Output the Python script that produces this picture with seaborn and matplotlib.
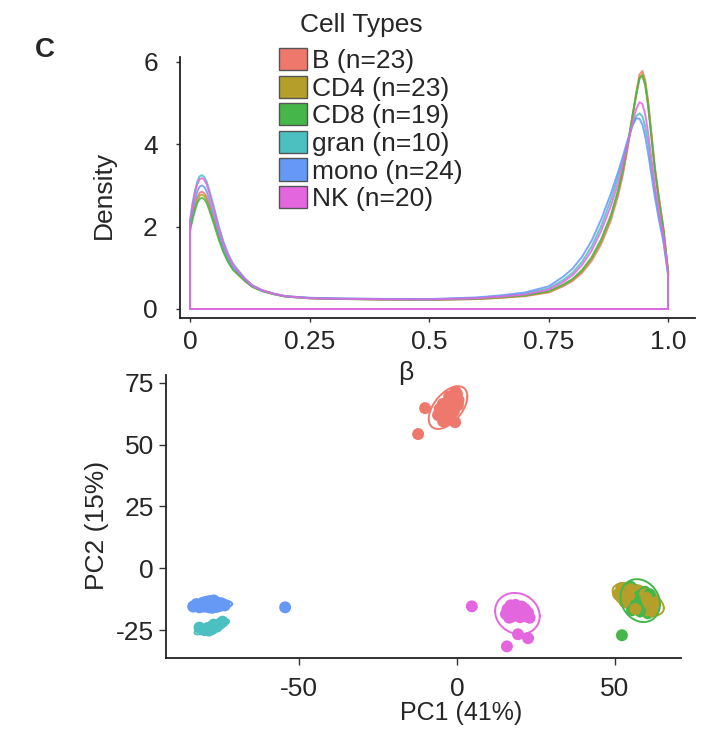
import numpy as np
import pandas as pd
import matplotlib
matplotlib.use("Agg")
import matplotlib.pyplot as plt
from matplotlib.patches import Patch
import seaborn as sns

# ---------------- data ----------------
cell_types = ["B", "CD4", "CD8", "gran", "mono", "NK"]
cell_counts = [23, 23, 19, 10, 24, 20]
colors = ["#EF786C", "#B59F2A", "#45B649", "#4CBFC0", "#6699F5", "#E466DF"]

# density curves of beta values
dens_x = [0.0, 0.005, 0.01, 0.015, 0.02, 0.025, 0.03, 0.035, 0.04, 0.05, 0.06, 0.07, 0.08,
          0.09, 0.10, 0.115, 0.13, 0.15, 0.175, 0.2,
          0.25, 0.3, 0.4, 0.5, 0.6, 0.65, 0.7, 0.75,
          0.78, 0.8, 0.82, 0.84, 0.86, 0.88, 0.895, 0.905, 0.915, 0.925, 0.933, 0.94,
          0.946, 0.952, 0.958, 0.965, 0.972, 0.98, 0.99, 1.0]
dens_B = [2.0, 2.28, 2.51, 2.71, 2.82, 2.85, 2.81, 2.71, 2.54, 2.17, 1.77, 1.43, 1.17,
          0.97, 0.85, 0.68, 0.54, 0.44, 0.36, 0.30,
          0.26, 0.245, 0.23, 0.22, 0.24, 0.27, 0.31, 0.40,
          0.55, 0.68, 0.88, 1.17, 1.58, 2.15, 2.75, 3.25, 3.90, 4.65, 5.25, 5.70,
          5.78, 5.55, 5.05, 4.25, 3.45, 2.75, 1.95, 0.90]
dens_CD4 = [1.95, 2.22, 2.45, 2.64, 2.75, 2.78, 2.74, 2.64, 2.48, 2.12, 1.73, 1.40, 1.15,
            0.96, 0.84, 0.68, 0.54, 0.44, 0.36, 0.30,
            0.26, 0.245, 0.23, 0.22, 0.24, 0.275, 0.32, 0.42,
            0.57, 0.71, 0.92, 1.22, 1.64, 2.22, 2.82, 3.32, 3.95, 4.65, 5.20, 5.62,
            5.70, 5.48, 4.98, 4.20, 3.42, 2.72, 1.95, 0.88]
dens_CD8 = [1.9, 2.16, 2.38, 2.57, 2.67, 2.70, 2.66, 2.57, 2.41, 2.06, 1.69, 1.37, 1.13,
            0.95, 0.84, 0.68, 0.54, 0.44, 0.36, 0.30,
            0.26, 0.245, 0.23, 0.225, 0.25, 0.285, 0.33, 0.43,
            0.59, 0.73, 0.95, 1.26, 1.70, 2.28, 2.88, 3.38, 4.00, 4.68, 5.20, 5.60,
            5.66, 5.42, 4.92, 4.15, 3.38, 2.68, 1.92, 0.85]
dens_gran = [2.15, 2.55, 2.86, 3.09, 3.22, 3.25, 3.20, 3.09, 2.89, 2.47, 2.02, 1.63, 1.33,
             1.10, 0.95, 0.74, 0.58, 0.46, 0.37, 0.31,
             0.27, 0.255, 0.24, 0.23, 0.27, 0.31, 0.37, 0.50,
             0.70, 0.88, 1.15, 1.52, 2.02, 2.65, 3.20, 3.60, 4.05, 4.45, 4.68, 4.75,
             4.68, 4.42, 4.02, 3.45, 2.85, 2.30, 1.70, 0.82]
dens_mono = [2.05, 2.38, 2.64, 2.85, 2.97, 3.00, 2.96, 2.85, 2.67, 2.28, 1.86, 1.50, 1.23,
             1.02, 0.90, 0.71, 0.56, 0.45, 0.37, 0.31,
             0.27, 0.255, 0.245, 0.24, 0.28, 0.33, 0.40, 0.55,
             0.78, 0.98, 1.27, 1.66, 2.18, 2.80, 3.32, 3.70, 4.10, 4.45, 4.63, 4.62,
             4.48, 4.18, 3.78, 3.25, 2.72, 2.20, 1.62, 0.80]
dens_NK = [2.1, 2.52, 2.80, 3.02, 3.15, 3.18, 3.13, 3.02, 2.83, 2.42, 1.97, 1.59, 1.30,
           1.07, 0.93, 0.73, 0.57, 0.46, 0.37, 0.31,
           0.26, 0.25, 0.235, 0.23, 0.26, 0.30, 0.35, 0.47,
           0.65, 0.82, 1.07, 1.42, 1.90, 2.50, 3.05, 3.50, 4.00, 4.50, 4.86, 5.02,
           4.98, 4.72, 4.28, 3.65, 3.00, 2.40, 1.78, 0.85]

# PCA scores (PC1, PC2) per sample
pc_B_x = [-10.1, -12.3, -4.4, -0.6, -2.5, -6.0, -5.0, -4.0, -3.5, -3.0, -2.0, -1.5,
          -1.0, 0.0, 0.5, -0.5, -2.5, -4.5, -1.0, -3.0, 0.3, -5.5, -2.0]
pc_B_y = [64.8, 54.3, 59.5, 59.1, 60.5, 62.0, 63.5, 65.0, 63.0, 66.5, 67.5, 65.5,
          69.0, 70.5, 68.0, 71.5, 69.5, 66.5, 63.5, 62.0, 66.0, 64.5, 64.0]
pc_CD4_x = [51.0, 52.0, 53.5, 54.0, 55.0, 55.5, 56.0, 57.0, 57.5, 58.0, 58.5, 59.0,
            59.5, 60.0, 60.5, 61.0, 61.5, 62.0, 62.5, 53.0, 56.5, 54.5, 60.0]
pc_CD4_y = [-10.5, -8.0, -9.5, -12.0, -8.5, -14.5, -11.0, -13.0, -9.0, -16.0, -12.0, -14.5,
            -10.5, -17.0, -13.5, -15.5, -11.5, -17.5, -14.0, -13.5, -16.5, -11.0, -12.0]
pc_CD8_x = [53.8, 55.0, 56.5, 57.0, 58.9, 61.7, 60.4, 55.4, 58.0, 59.5, 60.5, 57.5,
            56.0, 59.0, 62.0, 58.0, 61.0, 54.5, 52.2]
pc_CD8_y = [-8.9, -7.5, -9.0, -14.2, -15.8, -14.2, -18.2, -17.0, -11.0, -9.5, -12.0, -12.5,
            -12.0, -13.5, -16.5, -17.5, -10.5, -12.5, -27.1]
pc_gran_x = [-81.5, -80.0, -79.0, -78.5, -78.0, -77.5, -77.0, -76.0, -75.0, -74.2]
pc_gran_y = [-24.0, -25.0, -24.2, -25.2, -23.8, -24.6, -22.8, -23.6, -22.5, -21.6]
pc_mono_x = [-83.5, -82.5, -81.5, -80.5, -80.0, -79.5, -79.0, -78.5, -78.5, -78.0, -78.0, -77.5,
             -77.5, -77.0, -77.0, -76.5, -76.0, -75.5, -75.0, -74.5, -73.5, -79.5, -78.0, -54.4]
pc_mono_y = [-15.5, -14.5, -15.8, -14.0, -15.5, -15.0, -13.5, -14.0, -15.8, -13.2, -15.2, -14.2,
             -16.0, -13.0, -14.8, -13.5, -15.6, -14.0, -15.2, -14.2, -15.0, -13.6, -14.6, -15.8]
pc_NK_x = [15.5, 16.0, 17.0, 17.5, 18.0, 18.5, 19.0, 19.5, 20.0, 20.5, 21.0, 21.5,
           22.0, 22.5, 23.0, 16.5, 4.7, 19.3, 22.5, 15.8]
pc_NK_y = [-18.5, -16.5, -15.0, -19.5, -17.0, -14.8, -18.5, -16.0, -19.8, -15.5, -17.5, -16.5,
           -19.5, -18.0, -20.0, -20.0, -15.4, -26.7, -28.3, -31.6]

x_ticks_dens = [0, 0.25, 0.5, 0.75, 1.0]
x_ticklabels_dens = ["0", "0.25", "0.5", "0.75", "1.0"]
y_ticks_dens = [0, 2, 4, 6]
x_ticks_pca = [-50, 0, 50]
y_ticks_pca = [-25, 0, 25, 50, 75]

# ---------------- tables ----------------
dens_vals = {"B": dens_B, "CD4": dens_CD4, "CD8": dens_CD8,
             "gran": dens_gran, "mono": dens_mono, "NK": dens_NK}
pc_vals = {"B": (pc_B_x, pc_B_y), "CD4": (pc_CD4_x, pc_CD4_y), "CD8": (pc_CD8_x, pc_CD8_y),
           "gran": (pc_gran_x, pc_gran_y), "mono": (pc_mono_x, pc_mono_y), "NK": (pc_NK_x, pc_NK_y)}
dens_df = pd.concat([pd.DataFrame({"beta": dens_x, "density": dens_vals[c], "type": c})
                     for c in cell_types], ignore_index=True)
pca_df = pd.concat([pd.DataFrame({"PC1": pc_vals[c][0], "PC2": pc_vals[c][1], "type": c})
                    for c in cell_types], ignore_index=True)
# samples interleaved across cell types (as in a sample sheet)
pca_df["sample_idx"] = pca_df.groupby("type").cumcount()
pca_df = pca_df.sort_values("sample_idx", kind="stable").reset_index(drop=True)
palette = dict(zip(cell_types, colors))

# ---------------- style ----------------
sns.set_style("ticks")
plt.rcParams["font.family"] = ["Liberation Sans", "DejaVu Sans"]
plt.rcParams["axes.unicode_minus"] = False
FS = 19

W, H = 702, 736
fig = plt.figure(figsize=(W / 100, H / 100), dpi=100)

def axes_px(left, top, right, bottom):
    return fig.add_axes([left / W, 1 - bottom / H, (right - left) / W, (bottom - top) / H])

# ---------------- PCA panel ----------------
ax2 = axes_px(166, 375, 681, 658)
ax2.set_facecolor("none")
sns.scatterplot(data=pca_df, x="PC1", y="PC2", hue="type", palette=palette,
                hue_order=cell_types, s=74, linewidth=0, legend=False, ax=ax2, zorder=3)

def cov_trob(pts, nu=5, maxit=25, tol=0.01):
    n, p = pts.shape
    wt = np.ones(n)
    loc = pts.mean(0)
    w = np.sqrt(wt)
    X = pts - loc
    for _ in range(maxit):
        w0 = w
        X = pts - loc
        A = np.sqrt(w / w.sum())[:, None] * X
        _, d, vt = np.linalg.svd(A, full_matrices=False)
        wX = X @ vt.T @ np.diag(1 / d)
        Q = (wX ** 2).sum(1)
        w = (wt * (nu + p)) / (nu + Q)
        loc = (w[:, None] * pts).sum(0) / w.sum()
        if np.all(np.abs(w - w0) < tol):
            break
    sw = np.sqrt(w)[:, None] * X
    return loc, sw.T @ sw / wt.sum()

theta = np.linspace(0, 2 * np.pi, 120)
unit = np.column_stack([np.cos(theta), np.sin(theta)])
for c in cell_types:
    pts = np.column_stack(pc_vals[c]).astype(float)
    center, cov = cov_trob(pts)
    dfd = len(pts) - 1
    fq = dfd / 2 * ((1 - 0.95) ** (-2 / dfd) - 1)
    radius = np.sqrt(2 * fq)
    L = np.linalg.cholesky(cov)
    ell = center + radius * unit @ L.T
    ax2.plot(ell[:, 0], ell[:, 1], color=palette[c], lw=1.4, zorder=2 if c != "CD8" else 4)

ax2.set_xlim(-92.1, 70.9)
ax2.set_ylim(-36.3, 78.2)
ax2.set_xticks(x_ticks_pca)
ax2.set_yticks(y_ticks_pca)
ax2.tick_params(axis="both", labelsize=FS, length=5, width=1, color="#333333")
ax2.tick_params(axis="x", pad=9.0)
ax2.tick_params(axis="y", pad=3.6)
ax2.set_xlabel("PC1 (41%)", fontsize=18)
ax2.set_ylabel("PC2 (15%)", fontsize=FS)
ax2.xaxis.set_label_coords((461 - 166) / 515, -0.152)
ax2.yaxis.set_label_coords(-0.111, 0.47)
sns.despine(ax=ax2)
for s in ["left", "bottom"]:
    ax2.spines[s].set_linewidth(1.3)
    ax2.spines[s].set_color("#222222")

# ---------------- density panel ----------------
ax1 = axes_px(180, 57, 695, 318)
ax1.set_facecolor("none")
ax1.set_zorder(5)
sns.lineplot(data=dens_df, x="beta", y="density", hue="type", palette=palette,
             hue_order=cell_types, estimator=None, legend=False, linewidth=1.4,
             alpha=0.85, ax=ax1)
for c in cell_types:
    yv = dens_vals[c]
    ax1.plot([dens_x[0], dens_x[0]], [0, yv[0]], color=palette[c], lw=1.3)
    ax1.plot([dens_x[-1], dens_x[-1]], [0, yv[-1]], color=palette[c], lw=1.3)
    ax1.plot([dens_x[0], dens_x[-1]], [0, 0], color=palette[c], lw=1.3)
ax1.set_xlim(-0.021, 1.056)
ax1.set_ylim(-0.22, 6.12)
ax1.set_xticks(x_ticks_dens)
ax1.set_xticklabels(x_ticklabels_dens)
ax1.set_yticks(y_ticks_dens)
ax1.tick_params(axis="both", labelsize=FS, length=3, width=1, color="#333333")
ax1.tick_params(axis="x", pad=5.4)
ax1.tick_params(axis="y", pad=13)
ax1.set_xlabel("β", fontsize=FS)
ax1.set_ylabel("Density", fontsize=FS)
ax1.xaxis.set_label_coords((406 - 180) / 515, -0.165)
ax1.yaxis.set_label_coords(-0.124, 0.47)
sns.despine(ax=ax1)
for s in ["left", "bottom"]:
    ax1.spines[s].set_linewidth(1.3)
    ax1.spines[s].set_color("#222222")

# ---------------- legend ----------------
handles = [Patch(facecolor=palette[c], edgecolor="#555555", linewidth=1.0,
                 label=f"{c} (n={n})") for c, n in zip(cell_types, cell_counts)]
leg = fig.legend(handles=handles, loc="upper left",
                 bbox_to_anchor=(279 / W, 1 - 48 / H), frameon=False, fontsize=FS,
                 handlelength=1.06, handleheight=0.91,
                 handletextpad=0.2, labelspacing=0.094, borderpad=0, borderaxespad=0)
fig.text(300 / W, 1 - 25 / H, "Cell Types", fontsize=FS, ha="left", va="center")

fig.text(45 / W, 1 - 50 / H, "C", fontsize=20, fontweight="bold", ha="center", va="center")

fig.savefig("out.png", dpi=100)
